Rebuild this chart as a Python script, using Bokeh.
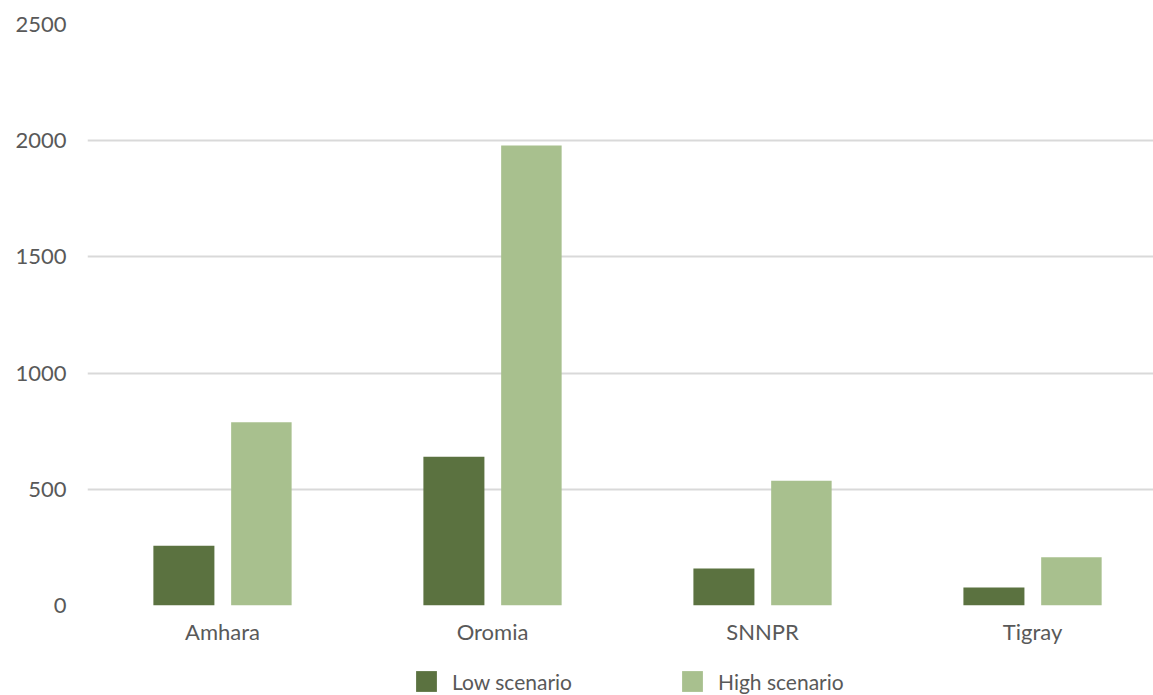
from bokeh.plotting import figure
from bokeh.layouts import column
from bokeh.models import Range1d, FixedTicker, Legend, LegendItem, ColumnDataSource
from bokeh.embed import file_html
from bokeh.resources import INLINE

regions = ["Amhara", "Oromia", "SNNPR", "Tigray"]
low_scenario = [257, 640, 159, 77]
high_scenario = [789, 1979, 537, 208]
y_ticks = [0, 500, 1000, 1500, 2000, 2500]
series_names = ["Low scenario", "High scenario"]

DARK = "#5B7240"
LIGHT = "#A8C08E"
TEXT = "#595959"
FONT = "Lato"

centers = [i + 0.5 for i in range(len(regions))]
src = ColumnDataSource(dict(
    x_low=[c - 0.143 for c in centers],
    x_high=[c + 0.144 for c in centers],
    low=low_scenario,
    high=high_scenario,
))

p = figure(width=1153, height=662, output_backend="svg", toolbar_location=None,
           x_range=Range1d(0, 3.948), y_range=Range1d(0, 2500),
           min_border_left=87, min_border_top=24, min_border_right=0,
           min_border_bottom=57, outline_line_color=None)

p.vbar(x="x_low", top="low", width=0.226, source=src, fill_color=DARK, line_color=None)
p.vbar(x="x_high", top="high", width=0.224, source=src, fill_color=LIGHT, line_color=None)

p.xaxis.ticker = FixedTicker(ticks=centers)
p.xaxis.major_label_overrides = {c: r for c, r in zip(centers, regions)}
p.yaxis.ticker = FixedTicker(ticks=y_ticks)

for ax in (p.xaxis[0], p.yaxis[0]):
    ax.axis_line_color = None
    ax.major_tick_line_color = None
    ax.minor_tick_line_color = None
    ax.major_label_text_color = TEXT
    ax.major_label_text_font = FONT
    ax.major_label_text_font_size = "22px"
p.yaxis.major_label_standoff = 15
p.xaxis.major_label_standoff = 6

p.xgrid.grid_line_color = None
p.ygrid.grid_line_color = "#D9D9D9"
p.ygrid.grid_line_width = 2
p.ygrid.ticker = FixedTicker(ticks=y_ticks)

# legend strip below the chart (its frame is aligned with the chart's frame)
p2 = figure(width=1153, height=33, output_backend="svg", toolbar_location=None,
            x_range=Range1d(0, 1), y_range=Range1d(0, 1),
            x_axis_location=None, y_axis_location=None,
            min_border_left=0, min_border_right=0, min_border_top=0, min_border_bottom=0,
            outline_line_color=None)
p2.grid.visible = False
leg_src = ColumnDataSource(dict(x=[-5.0], top=[0.0]))
d_low = p2.vbar(x="x", top="top", width=0.1, source=leg_src, fill_color=DARK, line_color=None)
d_high = p2.vbar(x="x", top="top", width=0.1, source=leg_src, fill_color=LIGHT, line_color=None)

legend = Legend(items=[LegendItem(label=series_names[0], renderers=[d_low]),
                       LegendItem(label=series_names[1], renderers=[d_high])],
                orientation="horizontal", location=(326, 1),
                glyph_width=26, glyph_height=26, label_standoff=13, spacing=97,
                label_width=130, label_height=26,
                label_text_font=FONT, label_text_font_size="21px", label_text_color=TEXT,
                border_line_color=None, background_fill_alpha=0, padding=0, margin=0)
p2.add_layout(legend)

open("out.html", "w").write(file_html(column(p, p2, spacing=0), INLINE))
